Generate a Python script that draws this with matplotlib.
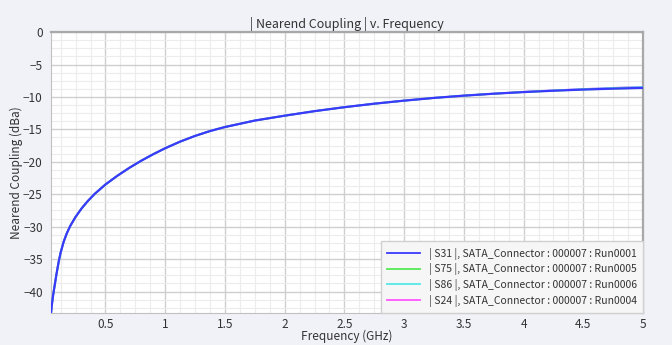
#!/usr/bin/env python
import numpy as np
import matplotlib
matplotlib.use('Agg')
import matplotlib.pyplot as plt
from matplotlib.ticker import MultipleLocator

plt.rcParams['font.family'] = ['Noto Sans CJK JP', 'DejaVu Sans']

# frequency points (GHz)
freq = [0.045, 0.05, 0.06, 0.067, 0.08, 0.09, 0.1, 0.11, 0.125, 0.15, 0.175,
        0.205, 0.25, 0.3, 0.35, 0.41, 0.5, 0.6, 0.7, 0.8, 0.9, 1.0, 1.125,
        1.25, 1.375, 1.5, 1.75, 2.0, 2.25, 2.5, 2.75, 3.0, 3.25, 3.5, 3.75,
        4.0, 4.25, 4.5, 4.75, 5.0]

# |S31| nearend coupling (dBa)
s31 = [-43.3, -42.3, -40.85, -40.0, -38.5, -37.35, -36.3, -35.3, -34.0, -32.35,
       -31.1, -29.9, -28.5, -27.2, -26.1, -24.95, -23.5, -22.15, -20.93,
       -19.83, -18.83, -17.91, -16.89, -16.01, -15.26, -14.64, -13.64, -12.89,
       -12.19, -11.58, -11.04, -10.57, -10.15, -9.8, -9.5, -9.25, -9.04,
       -8.86, -8.72, -8.6]
# the other three sit on top of S31 and only drift a little above 4 GHz
s75 = s31[:35] + [-9.25, -9.04, -8.86, -8.72, -8.6]
s86 = s31[:35] + [-9.23, -9.0, -8.8, -8.62, -8.47]
s24 = s31[:35] + [-9.22, -8.99, -8.78, -8.6, -8.44]

labels = ['| S31 |, SATA_Connector : 000007 : Run0001',
          '| S75 |, SATA_Connector : 000007 : Run0005',
          '| S86 |, SATA_Connector : 000007 : Run0006',
          '| S24 |, SATA_Connector : 000007 : Run0004']
colors = ['#3a3aff', '#55e855', '#55e8e8', '#ff55ff']

fig = plt.figure(figsize=(6.72, 3.45), dpi=100, facecolor='#f1f1f8')
ax = fig.add_axes([0.076, 0.093, 0.881, 0.814])
ax.set_facecolor('white')

series = [s31, s75, s86, s24]
lines = []
for i in [3, 2, 1, 0]:   # S31 drawn last so it is on top
    ln, = ax.plot(freq, series[i], color=colors[i], lw=1.6 if i == 0 else 1.3,
                  label=labels[i], zorder=3 + (3 - i))
    lines.append((i, ln))
lines.sort()

ax.set_xlim(0.045, 5)
ax.set_ylim(-43.3, 0)
ax.xaxis.set_minor_locator(MultipleLocator(0.125))
ax.yaxis.set_major_locator(MultipleLocator(5))
ax.yaxis.set_minor_locator(MultipleLocator(1.25))
ax.set_xticks([0.5, 1, 1.5, 2, 2.5, 3, 3.5, 4, 4.5, 5])
ax.set_xticklabels(['0.5', '1', '1.5', '2', '2.5', '3', '3.5', '4', '4.5', '5'])
ax.grid(True, which='major', color='#cfcfcf', lw=1.0)
ax.grid(True, which='minor', color='#ececec', lw=0.8)
ax.set_axisbelow(True)
ax.tick_params(which='both', length=0, labelsize=8.5, colors='#333333', pad=4)
ax.tick_params(axis='y', pad=6)

for s in ['left', 'bottom']:
    ax.spines[s].set_color('#c0c0c0')
for s in ['top', 'right']:
    ax.spines[s].set_color('#a8a8a8')
    ax.spines[s].set_linewidth(1.6)

ax.set_title('| Nearend Coupling | v. Frequency', fontsize=9, color='#333333', pad=3)
ax.set_xlabel('Frequency (GHz)', fontsize=8.5, color='#333333', labelpad=-1)
ax.set_ylabel('Nearend Coupling (dBa)', fontsize=8.5, color='#333333', labelpad=0)

leg = ax.legend([l for _, l in lines], [labels[i] for i, _ in lines],
                loc='lower right', borderaxespad=0, fontsize=7.5,
                frameon=True, fancybox=False, handlelength=3.2,
                labelspacing=0.35, borderpad=0.6, handletextpad=0.8)
leg.get_frame().set_facecolor('#f6f6f6')
leg.get_frame().set_edgecolor('#d0d0d0')
leg.get_frame().set_alpha(1)
for t in leg.get_texts():
    t.set_color('#333333')
for h in leg.legend_handles:
    h.set_linewidth(1.3)

fig.savefig('out.png', dpi=100, facecolor=fig.get_facecolor())
